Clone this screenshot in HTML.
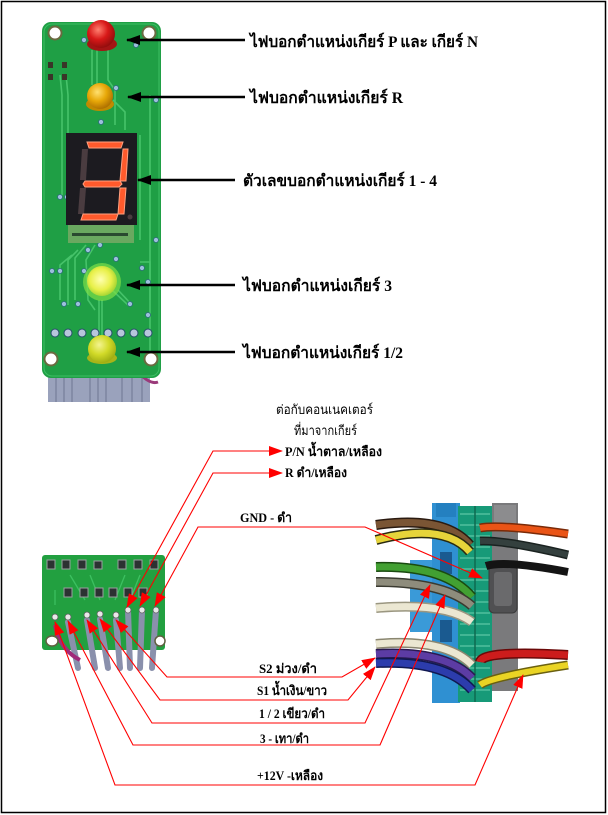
<!DOCTYPE html>
<html><head><meta charset="utf-8">
<style>
html,body{margin:0;padding:0;background:#fff;}
svg{display:block;}
.t{font-family:"Liberation Serif","DejaVu Serif","Noto Serif CJK SC",serif;font-weight:bold;fill:#000;}
.s{font-family:"Liberation Serif","DejaVu Serif","Noto Serif CJK SC",serif;fill:#000;}
</style></head><body>
<svg width="608" height="815" viewBox="0 0 608 815" xmlns="http://www.w3.org/2000/svg">
<defs>
<marker id="ab" markerWidth="14" markerHeight="10" refX="13" refY="5" orient="auto" markerUnits="userSpaceOnUse"><path d="M0,0 L14,5 L0,10 z" fill="#000"/></marker>
<marker id="ar" markerWidth="14" markerHeight="10" refX="13" refY="5" orient="auto-start-reverse" markerUnits="userSpaceOnUse"><path d="M0,0 L14,5 L0,10 z" fill="#f00"/></marker>
<radialGradient id="gR" cx="0.4" cy="0.35" r="0.7"><stop offset="0" stop-color="#ff8070"/><stop offset="0.5" stop-color="#d81818"/><stop offset="1" stop-color="#8a0c0c"/></radialGradient>
<radialGradient id="gO" cx="0.4" cy="0.35" r="0.7"><stop offset="0" stop-color="#ffe070"/><stop offset="0.5" stop-color="#e8a808"/><stop offset="1" stop-color="#a86a00"/></radialGradient>
<radialGradient id="gG" cx="0.45" cy="0.45" r="0.6"><stop offset="0" stop-color="#ffffb0"/><stop offset="0.6" stop-color="#e8f048"/><stop offset="1" stop-color="#98d030"/></radialGradient>
<radialGradient id="gY" cx="0.4" cy="0.35" r="0.7"><stop offset="0" stop-color="#f4f490"/><stop offset="0.5" stop-color="#d2da28"/><stop offset="1" stop-color="#98a810"/></radialGradient>
</defs>
<rect x="1.5" y="1.5" width="604" height="811" fill="#fff" stroke="#000" stroke-width="1.5"/>

<!-- ===== Top PCB ===== -->
<rect x="48" y="372" width="102" height="30" fill="#9aa2bc"/>
<g stroke="#7c84a0" stroke-width="1.5">
<line x1="56" y1="372" x2="56" y2="402"/><line x1="64" y1="372" x2="64" y2="402"/><line x1="72" y1="372" x2="72" y2="402"/><line x1="90" y1="372" x2="90" y2="402"/><line x1="98" y1="372" x2="98" y2="402"/><line x1="106" y1="372" x2="106" y2="402"/><line x1="122" y1="372" x2="122" y2="402"/><line x1="132" y1="372" x2="132" y2="402"/><line x1="142" y1="372" x2="142" y2="402"/>
</g>
<path d="M138,372 Q150,385 158,382" stroke="#9a3a7a" stroke-width="3" fill="none"/>
<rect x="42" y="22" width="119" height="356" rx="9" fill="#1f9f45"/>
<rect x="44" y="24" width="115" height="352" rx="8" fill="none" stroke="#3cbf62" stroke-width="1"/>
<!-- traces -->
<g stroke="#46c36a" stroke-width="1.6" fill="none">
<path d="M92,50 V85"/><path d="M97,50 V85"/><path d="M108,50 V80 L115,90 V125"/>
<path d="M113,100 L125,112 V130"/><path d="M60,75 L62,95 V195"/><path d="M66,75 L68,95 V195"/>
<path d="M150,95 V360"/><path d="M140,135 V240"/>
<path d="M72,255 L60,265 V300"/><path d="M78,250 L68,260 V305"/><path d="M86,245 L75,258 V300"/>
<path d="M95,245 L86,260 L88,300 L95,310"/><path d="M112,290 L128,305"/><path d="M118,290 L132,305"/>
<path d="M140,262 L150,262 V300"/><path d="M102,300 V335"/><path d="M99,300 V335"/>
</g>
<g fill="#9cc0dc" stroke="#2e6a7e" stroke-width="0.8">
<circle cx="84" cy="40" r="2.5"/><circle cx="136" cy="45" r="2.5"/><circle cx="116" cy="88" r="2.5"/>
<circle cx="156" cy="100" r="2.5"/><circle cx="101" cy="122" r="2.5"/><circle cx="60" cy="197" r="2.5"/><circle cx="67" cy="197" r="2.5"/>
<circle cx="156" cy="240" r="2.5"/><circle cx="88" cy="250" r="2.5"/><circle cx="100" cy="245" r="2.5"/><circle cx="116" cy="259" r="2.5"/>
<circle cx="52" cy="271" r="2.5"/><circle cx="60" cy="271" r="2.5"/><circle cx="84" cy="271" r="2.5"/><circle cx="142" cy="268" r="2.5"/>
<circle cx="148" cy="282" r="2.5"/><circle cx="64" cy="304" r="2.5"/><circle cx="78" cy="304" r="2.5"/><circle cx="130" cy="304" r="2.5"/>
<circle cx="148" cy="315" r="2.5"/>
</g>
<g fill="#b8c6dc" stroke="#27506a" stroke-width="1">
<circle cx="55" cy="333" r="4"/><circle cx="68" cy="333" r="4"/><circle cx="82" cy="333" r="4"/><circle cx="95" cy="333" r="4"/><circle cx="108" cy="333" r="4"/><circle cx="121" cy="333" r="4"/><circle cx="134" cy="333" r="4"/><circle cx="148" cy="333" r="4"/>
</g>
<!-- header pins -->
<g fill="#3a3428"><rect x="48" y="62" width="5" height="6"/><rect x="62" y="62" width="5" height="6"/><rect x="48" y="74" width="5" height="6"/><rect x="62" y="74" width="5" height="6"/></g>
<!-- holes -->
<g fill="#fff" stroke="#6a6a40" stroke-width="2">
<circle cx="55" cy="33" r="6.5"/><circle cx="149" cy="33" r="6.5"/><circle cx="51" cy="359" r="6.5"/><circle cx="151" cy="359" r="6.5"/>
</g>
<!-- LEDs -->
<ellipse cx="102" cy="44" rx="15" ry="7" fill="#a41414"/>
<circle cx="101" cy="34" r="14" fill="url(#gR)"/>
<ellipse cx="100" cy="104" rx="14" ry="7" fill="#c08a00"/>
<circle cx="100" cy="96" r="13" fill="url(#gO)"/>
<!-- 7 segment -->
<rect x="66" y="133" width="71" height="92" fill="#1c1b20"/>
<rect x="68" y="225" width="66" height="18" fill="#6aa860"/>
<rect x="72" y="233" width="56" height="3" fill="#2a4a30"/>
<g fill="#4a3c40">
<polygon points="82,149 88,149 86,180 80,180"/><polygon points="80,188 86,188 84,214 78,214"/><circle cx="130" cy="217" r="2.5"/>
</g>
<g fill="#ff5a2c" stroke="#ffa080" stroke-width="1">
<polygon points="87,142 123,142 121,148 89,148"/>
<polygon points="123,149 128,149 126,181 120,181"/>
<polygon points="85,181 120,181 122,184 119,187 85,187 83,184"/>
<polygon points="120,188 126,188 124,214 118,214"/>
<polygon points="83,214 118,214 116,220 81,220"/>
</g>
<circle cx="102" cy="282" r="19" fill="#7ee048" opacity="0.7"/>
<circle cx="102" cy="281" r="15" fill="url(#gG)"/>
<ellipse cx="102" cy="358" rx="15" ry="6" fill="#a8b418"/>
<circle cx="102" cy="349" r="14" fill="url(#gY)"/>

<!-- top arrows -->
<g stroke="#000" stroke-width="2.5" marker-end="url(#ab)">
<line x1="245" y1="40" x2="127" y2="40"/>
<line x1="245" y1="97" x2="128" y2="97"/>
<line x1="235" y1="180" x2="138" y2="180"/>
<line x1="235" y1="285" x2="127" y2="285"/>
<line x1="235" y1="352" x2="127" y2="352"/>
</g>
<text class="t" x="250" y="47" font-size="16" textLength="228" lengthAdjust="spacingAndGlyphs">ไฟบอกตำแหน่งเกียร์  P และ เกียร์ N</text>
<text class="t" x="250" y="103" font-size="16" textLength="153" lengthAdjust="spacingAndGlyphs">ไฟบอกตำแหน่งเกียร์  R</text>
<text class="t" x="243" y="186" font-size="16" textLength="194" lengthAdjust="spacingAndGlyphs">ตัวเลขบอกตำแหน่งเกียร์  1 - 4</text>
<text class="t" x="243" y="291" font-size="16" textLength="149" lengthAdjust="spacingAndGlyphs">ไฟบอกตำแหน่งเกียร์  3</text>
<text class="t" x="243" y="358" font-size="16" textLength="160" lengthAdjust="spacingAndGlyphs">ไฟบอกตำแหน่งเกียร์  1/2</text>

<!-- ===== Bottom-left PCB ===== -->
<rect x="42" y="555" width="123" height="95" rx="3" fill="#22a040"/>
<g fill="none" stroke="#3cc060" stroke-width="1.3">
<path d="M70,575 L85,600"/><path d="M90,575 L100,600"/><path d="M125,575 L115,600"/><path d="M140,575 L130,600"/>
<path d="M55,590 V605"/>
</g>
<g fill="#2c3232" stroke="#9aa0a0" stroke-width="1">
<rect x="47" y="560" width="8" height="9"/><rect x="62" y="560" width="8" height="9"/><rect x="78" y="560" width="8" height="9"/><rect x="94" y="561" width="8" height="8"/>
<rect x="118" y="560" width="8" height="9"/><rect x="134" y="560" width="8" height="9"/><rect x="150" y="560" width="8" height="9"/>
<rect x="64" y="588" width="8" height="9"/><rect x="80" y="588" width="8" height="9"/><rect x="95" y="588" width="8" height="9"/>
<rect x="109" y="588" width="8" height="9"/><rect x="124" y="588" width="8" height="9"/><rect x="139" y="588" width="8" height="9"/>
</g>
<g stroke="#8a90ac" stroke-width="6" fill="none" stroke-linecap="round">
<path d="M68,622 L78,668"/><path d="M87,620 L95,668"/><path d="M100,619 L108,668"/><path d="M116,620 L120,668"/>
<path d="M128,610 L130,668"/><path d="M142,610 L140,668"/><path d="M156,610 L152,668"/>
</g>
<path d="M55,625 Q60,650 80,660" stroke="#a02a7a" stroke-width="4" fill="none"/>
<g fill="#fff" stroke="#606040" stroke-width="1.5"><ellipse cx="52" cy="641" rx="6" ry="5"/><ellipse cx="160" cy="641" rx="5" ry="5"/></g>
<g fill="#e8e8e8" stroke="#606060" stroke-width="0.8">
<circle cx="55" cy="617" r="3"/><circle cx="68" cy="617" r="3"/><circle cx="87" cy="615" r="3"/><circle cx="100" cy="614" r="3"/><circle cx="116" cy="615" r="3"/><circle cx="128" cy="610" r="3"/><circle cx="142" cy="610" r="3"/><circle cx="156" cy="610" r="3"/>
</g>

<!-- ===== Connector ===== -->
<rect x="410" y="560" width="24" height="72" fill="#3a9ad8"/>
<rect x="432" y="503" width="28" height="200" fill="#2f90d2"/>
<rect x="436" y="503" width="20" height="14" fill="#2480c0"/>
<rect x="440" y="552" width="12" height="22" fill="#1a5a90"/>
<rect x="440" y="620" width="12" height="22" fill="#1a5a90"/>
<rect x="458" y="506" width="34" height="196" fill="#179a78"/>
<g stroke="#5cc8a4" stroke-width="1.2">
<line x1="460" y1="514" x2="490" y2="514"/><line x1="460" y1="525" x2="490" y2="525"/><line x1="460" y1="536" x2="490" y2="536"/><line x1="460" y1="547" x2="490" y2="547"/><line x1="460" y1="558" x2="490" y2="558"/><line x1="460" y1="569" x2="490" y2="569"/><line x1="460" y1="580" x2="490" y2="580"/><line x1="460" y1="591" x2="490" y2="591"/><line x1="460" y1="602" x2="490" y2="602"/><line x1="460" y1="613" x2="490" y2="613"/><line x1="460" y1="624" x2="490" y2="624"/><line x1="460" y1="635" x2="490" y2="635"/><line x1="460" y1="646" x2="490" y2="646"/><line x1="460" y1="657" x2="490" y2="657"/><line x1="460" y1="668" x2="490" y2="668"/><line x1="460" y1="679" x2="490" y2="679"/><line x1="460" y1="690" x2="490" y2="690"/>
</g>
<line x1="475" y1="506" x2="475" y2="702" stroke="#0e6a50" stroke-width="1.5"/>
<rect x="492" y="503" width="26" height="188" fill="#7a7a7c"/>
<rect x="494" y="505" width="22" height="20" fill="#8c8c8e"/>
<rect x="489" y="565" width="28" height="48" rx="5" fill="#505052" stroke="#3a3a3a" stroke-width="1"/>
<rect x="494" y="572" width="18" height="34" rx="3" fill="#6a6a6c"/>
<!-- left wires -->
<g fill="none" stroke-linecap="butt">
<path d="M376,525 Q445,515 470,545" stroke="#2a1a10" stroke-width="10"/>
<path d="M376,525 Q445,515 470,545" stroke="#7a5534" stroke-width="7"/>
<path d="M376,540 Q445,522 470,552" stroke="#2a2a10" stroke-width="10"/>
<path d="M376,540 Q445,522 470,552" stroke="#e6d43a" stroke-width="7"/>
<path d="M376,567 Q445,565 472,597" stroke="#1a4a10" stroke-width="10"/>
<path d="M376,567 Q445,565 472,597" stroke="#42a032" stroke-width="7"/>
<path d="M376,582 Q445,582 472,606" stroke="#3a3a30" stroke-width="10"/>
<path d="M376,582 Q445,582 472,606" stroke="#8e8c7c" stroke-width="7"/>
<path d="M376,608 Q445,602 472,622" stroke="#9a9680" stroke-width="10"/>
<path d="M376,608 Q445,602 472,622" stroke="#ebe7d2" stroke-width="7"/>
<path d="M376,644 Q445,638 472,665" stroke="#8a8670" stroke-width="10"/>
<path d="M376,644 Q445,638 472,665" stroke="#ebe7d2" stroke-width="7"/>
<path d="M376,654 Q445,650 472,678" stroke="#2a1a50" stroke-width="10"/>
<path d="M376,654 Q445,650 472,678" stroke="#5c3ca4" stroke-width="7"/>
<path d="M376,663 Q445,660 472,690" stroke="#101850" stroke-width="10"/>
<path d="M376,663 Q445,660 472,690" stroke="#2c3cac" stroke-width="7"/>
<!-- right wires -->
<path d="M480,528 Q500,524 568,534" stroke="#7a2a08" stroke-width="9"/>
<path d="M480,528 Q500,524 568,534" stroke="#ea5416" stroke-width="6"/>
<path d="M480,541 Q505,540 568,555" stroke="#1a2220" stroke-width="9"/>
<path d="M480,541 Q505,540 568,555" stroke="#34403e" stroke-width="6"/>
<path d="M486,566 Q505,560 568,572" stroke="#141414" stroke-width="8"/>
<path d="M480,662 Q482,650 568,655" stroke="#6a0808" stroke-width="10"/>
<path d="M480,662 Q482,650 568,655" stroke="#cc1c1c" stroke-width="7"/>
<path d="M480,685 Q490,677 568,665" stroke="#6a6010" stroke-width="9"/>
<path d="M480,685 Q490,677 568,665" stroke="#ead424" stroke-width="6"/>
</g>

<!-- ===== red connectors ===== -->
<g fill="none" stroke="#f00" stroke-width="1.1" marker-start="url(#ar)" marker-end="url(#ar)">
<polyline points="282,451 213,451 127,607"/>
<polyline points="282,473 213,473 140,606"/>
<polyline points="482,578 365,527 198,527 155,606"/>
<polyline points="375,658 342,677 167,677 116,620"/>
<polyline points="375,667 348,700 160,700 100,619"/>
<polyline points="430,585 365,723 152,723 87,620"/>
<polyline points="445,595 380,745 133,745 68,621"/>
<polyline points="523,675 475,785 115,785 55,622"/>
</g>

<!-- bottom labels -->
<text class="s" x="276" y="414" font-size="13" textLength="97" lengthAdjust="spacingAndGlyphs">ต่อกับคอนเนคเตอร์</text>
<text class="s" x="294" y="435" font-size="13" textLength="63" lengthAdjust="spacingAndGlyphs">ที่มาจากเกียร์</text>
<text class="t" x="285" y="456" font-size="13" textLength="97" lengthAdjust="spacingAndGlyphs">P/N  น้ำตาล/เหลือง</text>
<text class="t" x="285" y="477" font-size="13" textLength="62" lengthAdjust="spacingAndGlyphs">R ดำ/เหลือง</text>
<text class="t" x="240" y="522" font-size="13" textLength="52" lengthAdjust="spacingAndGlyphs">GND - ดำ</text>
<text class="t" x="259" y="673" font-size="13" textLength="58" lengthAdjust="spacingAndGlyphs">S2  ม่วง/ดำ</text>
<text class="t" x="257" y="695" font-size="13" textLength="70" lengthAdjust="spacingAndGlyphs">S1 น้ำเงิน/ขาว</text>
<text class="t" x="259" y="718" font-size="13" textLength="66" lengthAdjust="spacingAndGlyphs">1 / 2 เขียว/ดำ</text>
<text class="t" x="260" y="743" font-size="13" textLength="49" lengthAdjust="spacingAndGlyphs">3 - เทา/ดำ</text>
<text class="t" x="257" y="780" font-size="13" textLength="66" lengthAdjust="spacingAndGlyphs">+12V -เหลือง</text>
</svg>
</body></html>
